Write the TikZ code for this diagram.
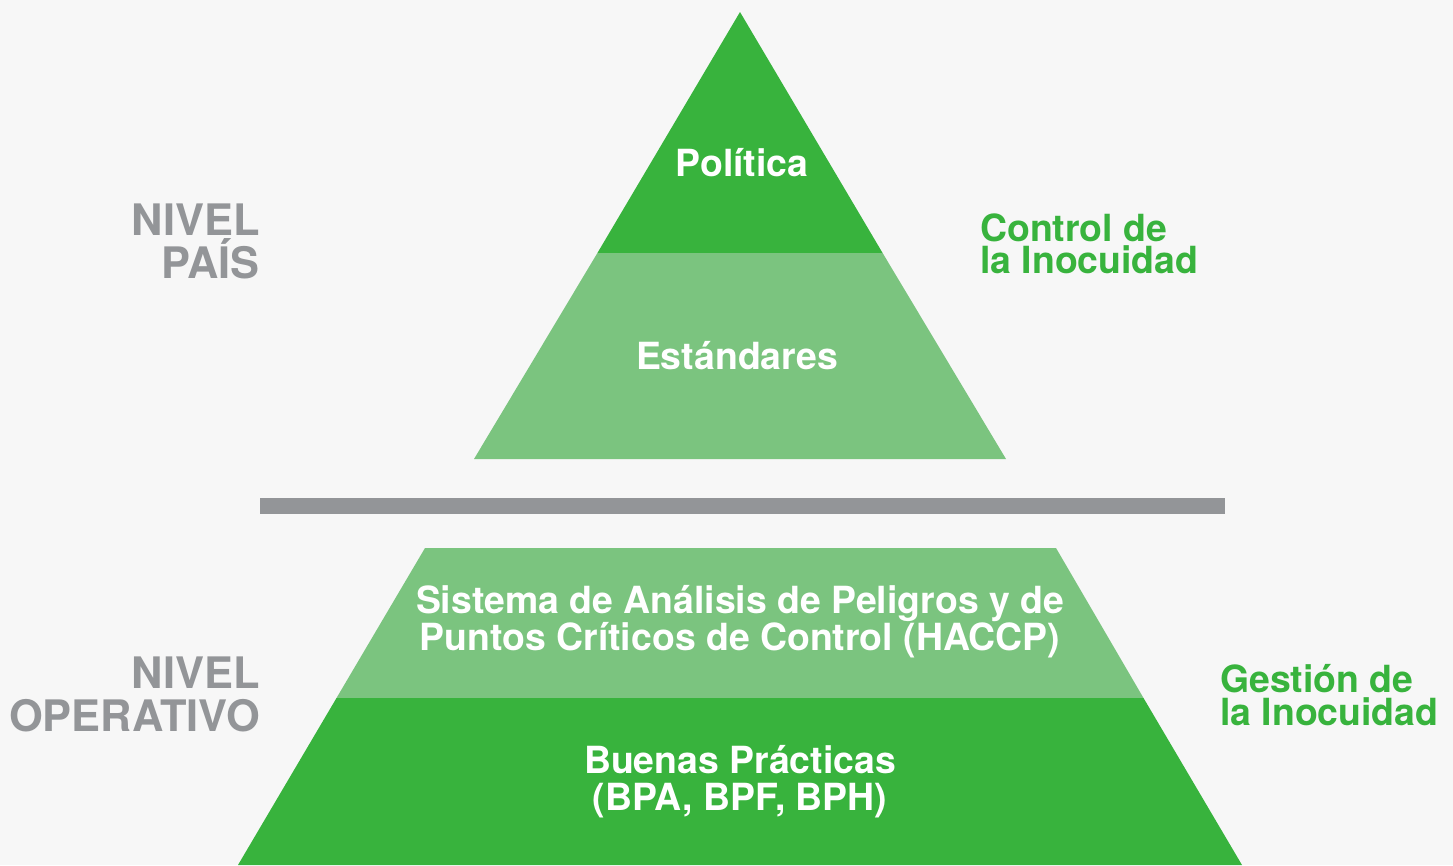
\documentclass[tikz,border=0pt]{standalone}
\usepackage{fontspec}
\setmainfont{TeX Gyre Heros}
\definecolor{bg}{HTML}{F7F7F7}
\definecolor{dkgreen}{HTML}{38B33D}
\definecolor{ltgreen}{HTML}{7BC47F}
\definecolor{grayc}{HTML}{939598}
\tikzset{
  whitelbl/.style={text=white, font=\bfseries\fontsize{37.4}{37}\selectfont, align=center, inner sep=0pt},
  greenlbl/.style={text=dkgreen, font=\bfseries\fontsize{37.4}{32.5}\selectfont, align=left, inner sep=0pt, anchor=west},
  graylbl/.style={text=grayc, font=\bfseries\fontsize{43.4}{43}\selectfont, align=right, inner sep=0pt, anchor=east},
}
\begin{document}
\begin{tikzpicture}[x=1pt,y=-1pt]
\useasboundingbox (0,0) rectangle (1453,865);
\fill[bg] (0,0) rectangle (1453,865);
% top pyramid
\fill[dkgreen] (740,12) -- (882.6,253) -- (597.4,253) -- cycle;
\fill[ltgreen] (597.4,253) -- (882.6,253) -- (1006,459) -- (474,459) -- cycle;
% separator bar
\fill[grayc] (260,498) rectangle (1225,514);
% bottom trapezoid
\fill[ltgreen] (425,548) -- (1056,548) -- (1143.5,698) -- (336.5,698) -- cycle;
\fill[dkgreen] (336.5,698) -- (1143.5,698) -- (1242,865) -- (238,865) -- cycle;
% labels
\node[whitelbl] (pol) at (742,163) {Política};
\node[whitelbl] (est) at (737,356) {Estándares};
\node[whitelbl] (hac) at (740,622) {Sistema de Análisis de Peligros y de\\Puntos Críticos de Control (HACCP)};
\node[whitelbl] (bp) at (740,782) {Buenas Prácticas\\(BPA, BPF, BPH)};
\node[graylbl] (np) at (260,241) {NIVEL\\PAÍS};
\node[graylbl] (no) at (260,694) {NIVEL\\OPERATIVO};
\node[greenlbl] (ci) at (980,244) {Control de\\la Inocuidad};
\node[greenlbl] (gi) at (1220,695) {Gestión de\\la Inocuidad};
\end{tikzpicture}
\end{document}
